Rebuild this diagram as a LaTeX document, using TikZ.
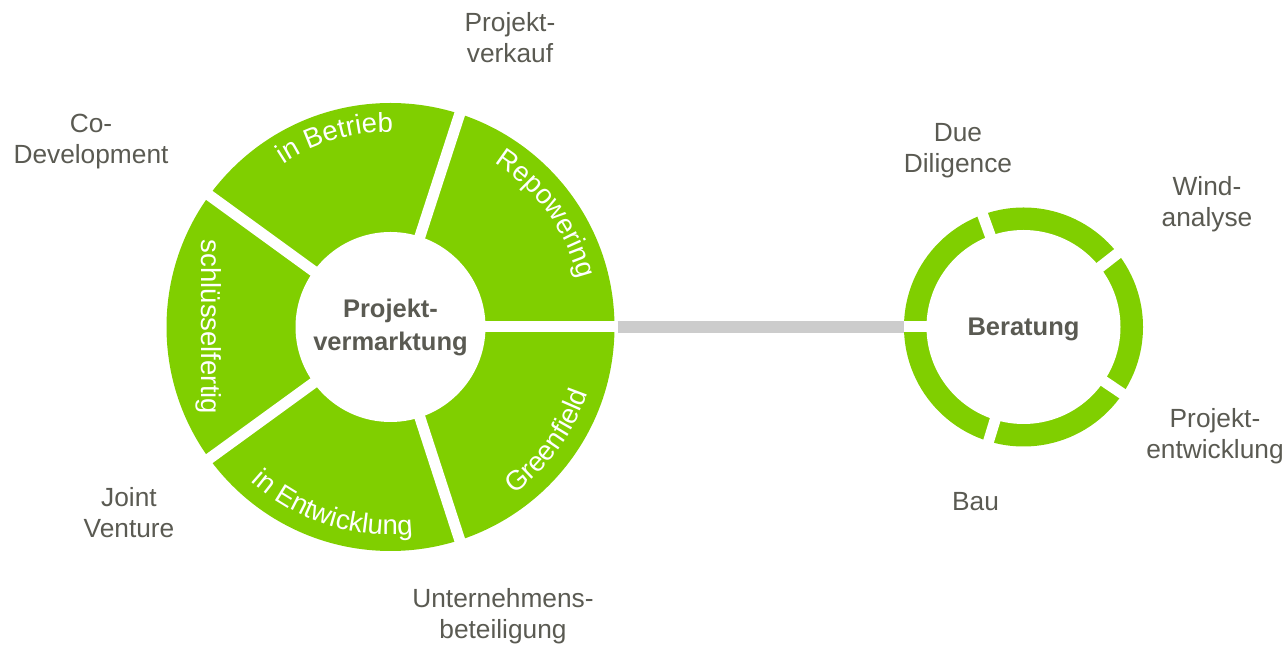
\documentclass[tikz,border=0pt]{standalone}
\usepackage{fontspec}
\setmainfont{Liberation Sans}
\usetikzlibrary{decorations.text}
\definecolor{ringgreen}{RGB}{128,207,0}
\definecolor{labelgray}{RGB}{90,90,82}
\definecolor{bargray}{RGB}{204,204,204}
\newcommand\lblfont{\fontsize{26.3}{31}\selectfont}
\newcommand\ctrfont{\bfseries\fontsize{25.5}{33}\selectfont}
\newcommand\ringfont{\fontsize{27.5}{27.5}\selectfont}
\begin{document}
\begin{tikzpicture}[x=1pt,y=1pt,
  lbl/.style={text=labelgray, font=\lblfont, align=center, inner sep=0},
  ctr/.style={circle, fill=white, inner sep=0, text=labelgray, font=\ctrfont, align=center},
  ring/.style={circle, fill=ringgreen, inner sep=0},
  gap/.style={white, line width=11pt},
  conn/.style={bargray, line width=12pt},
  ringtext/.style={decorate, decoration={text along path, text align=center, text color=white, text={|\ringfont|#1}}}]
\useasboundingbox (0,0) rectangle (1286,645);
% left ring
\node[ring, minimum size=448pt] (L) at (390.5,318) {};
\begin{scope}[shift={(L.center)}]
  \foreach \a in {0,72,144,216,288} \draw[gap] (\a:80) -- (\a:240);
\end{scope}
\node[ctr, minimum size=190pt] (Lc) at (L.center) {Projekt-\\vermarktung};
\begin{scope}[shift={(L.center)}]
  \path[ringtext={in Betrieb}] (142.3:195) arc[start angle=142.3, end angle=70.3, radius=195];
  \path[ringtext={Repowering}] (72:194) arc[start angle=72, end angle=0, radius=194];
  \path[ringtext={Greenfield}] (288:208) arc[start angle=288, end angle=360, radius=208];
  \path[ringtext={in Entwicklung}] (216:208) arc[start angle=216, end angle=288, radius=208];
  \node[rotate=-90, text=white, font=\ringfont, inner sep=0] (sf) at (180:182) {schlüsselfertig};
\end{scope}
% right ring
\node[ring, minimum size=239pt] (R) at (1023.5,318) {};
\begin{scope}[shift={(R.center)}]
  \foreach \a in {180,110,38,-34,-107} \draw[gap] (\a:85) -- (\a:135);
\end{scope}
\node[ctr, minimum size=194pt] (Rc) at (R.center) {};
\node[text=labelgray, font=\ctrfont, inner sep=0] (Rt) at ([yshift=-2pt]R.center) {Beratung};
% connector
\draw[conn] ([xshift=3pt]L.east) -- (R.west);
% labels
\node[lbl] (pv) at (510,607.5) {Projekt-\\verkauf};
\node[lbl] (cd) at (91,503.5) {Co-\\Development};
\node[lbl] (jv) at (129,132.5) {Joint\\Venture};
\node[lbl] (ub) at (503,28.5) {Unternehmens-\\beteiligung};
\node[lbl] (dd) at (958,494) {Due\\Diligence};
\node[lbl] (wa) at (1207,441) {Wind-\\analyse};
\node[lbl] (pe) at (1215,209) {Projekt-\\entwicklung};
\node[lbl] (bau) at (975.5,143.3) {Bau};
\end{tikzpicture}
\end{document}
